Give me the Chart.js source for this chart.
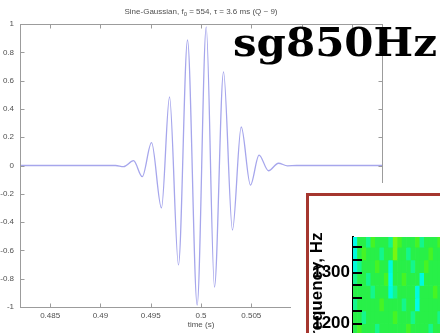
<!DOCTYPE html>
<html><head><meta charset="utf-8">
<script src="https://cdn.jsdelivr.net/npm/chart.js@4/dist/chart.umd.min.js"></script>
<style>
html,body{margin:0;padding:0;overflow:hidden;background:#fff;width:440px;height:333px;}
#mainWrap{position:absolute;left:0;top:0;width:440px;height:333px;}
#pad{position:absolute;left:291px;top:183px;width:200px;height:200px;background:#fff;}
#frame{position:absolute;left:306px;top:193px;width:200px;height:200px;border:3px solid #a5362f;box-sizing:border-box;}
#specWrap{position:absolute;left:300px;top:193px;width:160px;height:150px;}
</style></head><body>
<div id="mainWrap"><canvas id="main"></canvas></div>
<div id="pad"></div>
<div id="frame"></div>
<div id="specWrap"><canvas id="spec"></canvas></div>
<script>
// ---- Sine-Gaussian waveform (flat parts, extrema) ----
const timeS = [0.4820, 0.4915, 0.49230, 0.49329, 0.49416, 0.49508, 0.49607, 0.49687, 0.49776,
  0.49866, 0.49962, 0.50052, 0.50134, 0.50224, 0.50313, 0.50400, 0.50492, 0.50577, 0.50671,
  0.50770, 0.50860, 0.5095, 0.5180];
const amplitude = [0, 0, -0.008, 0.034, -0.079, 0.161, -0.300, 0.484, -0.703,
  0.887, -0.986, 0.979, -0.859, 0.661, -0.456, 0.272, -0.138, 0.074, -0.037,
  0.016, -0.002, 0, 0];
const xTicks = [0.485, 0.49, 0.495, 0.5, 0.505, 0.51, 0.515];
const xTickLabels = ['0.485', '0.49', '0.495', '0.5', '0.505', '0.51', '0.515'];
const yTicks = [-1, -0.8, -0.6, -0.4, -0.2, 0, 0.2, 0.4, 0.6, 0.8, 1];
const yTickLabels = ['-1', '-0.8', '-0.6', '-0.4', '-0.2', '0', '0.2', '0.4', '0.6', '0.8', '1'];
const titleMain = 'Sine-Gaussian, f';
const titleSub = '0';
const titleRest = ' = 554, \u03c4 = 3.6 ms (Q ~ 9)';
const xTitle = 'time (s)';
const overlayText = 'sg850Hz';

// ---- Spectrogram inset ----
const specTimeBins = ['t1','t2','t3','t4','t5','t6','t7','t8','t9','t10','t11','t12',
  't13','t14','t15','t16','t17','t18','t19','t20','t21','t22','t23','t24'];
const specRowFreqs = [1350, 1325, 1300, 1275, 1250, 1225, 1200, 1175, 1150];
const specBinHz = 25;
const specPower = [
  [2,5,5,4,6,5,5,5,4,7,6,5,5,5,6,4,5,5,5,6,5,4,5,5],
  [3,5,6,5,5,5,4,5,5,7,5,5,4,5,5,5,5,6,5,5,5,5,5,6],
  [3,4,5,5,5,6,5,5,3,5,5,5,5,4,5,5,6,5,5,5,4,5,5,5],
  [4,5,5,4,5,5,5,6,2,5,5,6,5,5,5,3,5,5,5,5,5,6,5,5],
  [5,5,5,5,4,5,5,5,3,4,5,5,5,5,3,5,5,5,6,5,5,5,4,5],
  [4,5,5,5,5,5,6,5,5,5,5,4,5,5,2,5,5,5,5,5,6,5,5,5],
  [5,5,4,5,5,5,5,5,5,6,5,5,5,4,5,5,5,5,5,4,5,5,5,5],
  [5,6,5,5,5,4,5,5,5,5,5,5,6,5,5,5,5,4,5,5,5,5,6,5],
  [5,5,5,5,6,5,5,4,5,5,5,5,5,5,5,6,5,5,5,5,4,5,5,5]
];
const freqTicks = [1175, 1200, 1225, 1250, 1275, 1300, 1325, 1350];
const freqTickLabels = ['', '1200', '', '', '', '1300', '', ''];
const freqTitle = 'Frequency, Hz';

function powerColor(p) {
  const stops = [[0,[0,255,255]],[3,[0,250,220]],[4,[20,246,140]],[5,[40,240,72]],[6,[70,244,36]],[7,[120,246,16]],[9,[210,250,0]]];
  for (let i = 1; i < stops.length; i++) {
    if (p <= stops[i][0]) {
      const [a, ca] = stops[i-1], [b, cb] = stops[i];
      const f = (p - a) / (b - a);
      const c = ca.map((v, k) => Math.round(v + (cb[k] - v) * f));
      return 'rgb(' + c.join(',') + ')';
    }
  }
  return 'rgb(210,250,0)';
}

const axisGray = '#9c9c9c';
const textGray = '#505050';

const matlabAxes = {
  id: 'matlabAxes',
  afterDraw(chart) {
    const {ctx, chartArea: {left, right, top, bottom}, scales: {x, y}} = chart;
    ctx.save();
    ctx.strokeStyle = axisGray;
    ctx.lineWidth = 1;
    const L = Math.round(left) + 0.5, R = Math.round(right) + 0.5, T = Math.round(top) + 0.5, B = Math.round(bottom) + 0.5;
    ctx.strokeRect(L, T, R - L, B - T);
    ctx.beginPath();
    x.ticks.forEach(t => {
      const px = Math.round(x.getPixelForValue(t.value)) + 0.5;
      ctx.moveTo(px, B); ctx.lineTo(px, B - 4);
      ctx.moveTo(px, T); ctx.lineTo(px, T + 4);
    });
    y.ticks.forEach(t => {
      const py = Math.round(y.getPixelForValue(t.value)) + 0.5;
      ctx.moveTo(L, py); ctx.lineTo(L + 4, py);
      ctx.moveTo(R, py); ctx.lineTo(R - 4, py);
    });
    ctx.stroke();
    // title
    ctx.fillStyle = textGray;
    ctx.textBaseline = 'middle';
    ctx.textAlign = 'left';
    const f1 = '8px "Liberation Sans", Arial, sans-serif';
    const f2 = '6px "Liberation Sans", Arial, sans-serif';
    ctx.font = f1;
    const w1 = ctx.measureText(titleMain).width, w3 = ctx.measureText(titleRest).width;
    ctx.font = f2;
    const w2 = ctx.measureText(titleSub).width;
    const cx = (left + right) / 2;
    let sx = cx - (w1 + w2 + w3) / 2;
    const ty = 12;
    ctx.font = f1; ctx.fillText(titleMain, sx, ty); sx += w1;
    ctx.font = f2; ctx.fillText(titleSub, sx, ty + 2.5); sx += w2;
    ctx.font = f1; ctx.fillText(titleRest, sx, ty);
    // big overlay label
    ctx.font = 'bold 39px "DejaVu Serif", serif';
    ctx.textBaseline = 'alphabetic';
    const ow = ctx.measureText(overlayText).width;
    ctx.translate(233, 56);
    ctx.scale(204 / ow, 1);
    ctx.fillStyle = '#000';
    ctx.fillText(overlayText, 0, 0);
    ctx.restore();
  }
};

new Chart(document.getElementById('main'), {
  type: 'scatter',
  data: {
    datasets: [{
      data: timeS.map((t, i) => ({x: t, y: amplitude[i]})),
      showLine: true,
      borderColor: '#a6a6ec',
      borderWidth: 1.3,
      pointRadius: 0,
      cubicInterpolationMode: 'monotone'
    }]
  },
  options: {
    animation: false,
    responsive: true,
    maintainAspectRatio: false,
    devicePixelRatio: 1,
    layout: {padding: {top: 24, right: 58, left: 0, bottom: 0}},
    plugins: {legend: {display: false}, tooltip: {enabled: false}},
    scales: {
      x: {
        type: 'linear', min: 0.482, max: 0.518,
        afterBuildTicks: s => { s.ticks = xTicks.map(v => ({value: v})); },
        afterFit: s => { s.height = 26; s.paddingLeft = 0; s.paddingRight = 0; },
        grid: {display: false, drawTicks: false},
        border: {display: false},
        ticks: {callback: (v, i) => xTickLabels[i], autoSkip: false, maxRotation: 0, padding: 4,
          color: textGray, font: {family: '"Liberation Sans", Arial, sans-serif', size: 8}},
        title: {display: true, text: xTitle, color: textGray, padding: {top: 0, bottom: 3},
          font: {family: '"Liberation Sans", Arial, sans-serif', size: 8}}
      },
      y: {
        min: -1, max: 1,
        afterBuildTicks: s => { s.ticks = yTicks.map(v => ({value: v})); },
        afterFit: s => { s.width = 20; s.paddingTop = 0; s.paddingBottom = 0; },
        grid: {display: false, drawTicks: false},
        border: {display: false},
        ticks: {callback: (v, i) => yTickLabels[i], autoSkip: false, padding: 6,
          color: textGray, font: {family: '"Liberation Sans", Arial, sans-serif', size: 8}}
      }
    }
  },
  plugins: [matlabAxes]
});

const inTicks = {
  id: 'inTicks',
  afterDatasetsDraw(chart) {
    const {ctx, chartArea: {left}, scales: {y}} = chart;
    ctx.save();
    ctx.strokeStyle = '#000';
    ctx.lineWidth = 2;
    ctx.beginPath();
    y.ticks.forEach(t => {
      const py = Math.round(y.getPixelForValue(t.value));
      ctx.moveTo(left, py); ctx.lineTo(left + 9, py);
    });
    ctx.stroke();
    ctx.restore();
  }
};

new Chart(document.getElementById('spec'), {
  type: 'bar',
  data: {
    labels: specTimeBins,
    datasets: specRowFreqs.map((f, r) => ({
      data: specTimeBins.map(() => [f, f + specBinHz]),
      backgroundColor: specPower[r].map(powerColor),
      borderWidth: 0,
      barPercentage: 1,
      categoryPercentage: 1,
      grouped: false
    }))
  },
  options: {
    animation: false,
    responsive: true,
    maintainAspectRatio: false,
    devicePixelRatio: 1,
    layout: {padding: {top: 44, left: 0, right: 0, bottom: 0}},
    plugins: {legend: {display: false}, tooltip: {enabled: false}},
    scales: {
      x: {display: false},
      y: {
        min: 1162, max: 1370,
        afterBuildTicks: s => { s.ticks = freqTicks.map(v => ({value: v})); },
        afterFit: s => { s.width = 53; s.paddingTop = 0; s.paddingBottom = 0; },
        grid: {display: false, drawTicks: false},
        border: {display: true, color: '#000', width: 2},
        ticks: {callback: (v, i) => freqTickLabels[i], autoSkip: false, padding: 3, color: '#000',
          font: {family: '"Liberation Sans", Arial, sans-serif', size: 17, weight: 'bold'}},
        title: {display: true, text: freqTitle, color: '#000', padding: {top: 7, bottom: 0},
          font: {family: '"Liberation Sans", Arial, sans-serif', size: 17, weight: 'bold'}}
      }
    }
  },
  plugins: [inTicks]
});
</script>
</body></html>
